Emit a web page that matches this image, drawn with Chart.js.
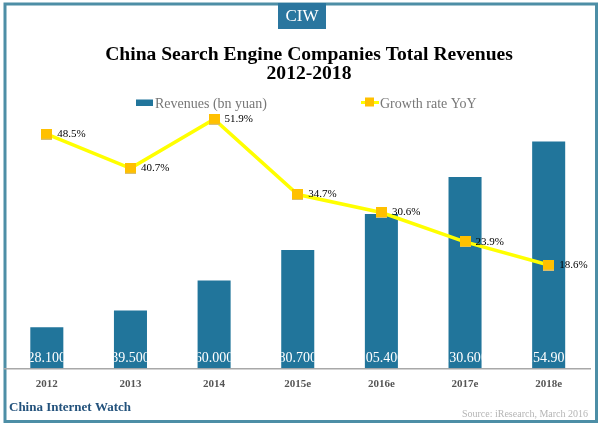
<!DOCTYPE html>
<html><head><meta charset="utf-8">
<style>html,body{margin:0;padding:0;background:#fff}canvas{display:block}</style>
<script src="https://cdn.jsdelivr.net/npm/chart.js@4/dist/chart.umd.min.js"></script>
</head><body><canvas id="c" width="600" height="424"></canvas>
<script>
const categories=["2012","2013","2014","2015e","2016e","2017e","2018e"];
const revenues=[28.1,39.5,60.0,80.7,105.4,130.6,154.9];
const revenueLabels=["28.100","39.500","60.000","80.700","105.400","130.600","154.900"];
const growth=[48.5,40.7,51.9,34.7,30.6,23.9,18.6];
const growthLabels=["48.5%","40.7%","51.9%","34.7%","30.6%","23.9%","18.6%"];
const titleLines=["China Search Engine Companies Total Revenues","2012-2018"];
const seriesNames=["Revenues (bn yuan)","Growth rate YoY"];
const SERIF='"Liberation Serif",serif';

function marker(){const c=document.createElement('canvas');c.width=11;c.height=11;const x=c.getContext('2d');
 x.fillStyle='#ffc000';x.fillRect(0,0,11,10);x.fillStyle='#d9bf70';x.fillRect(0,10,11,1);return c;}

const decor={id:'decor',
 afterLayout(ch){ch.titleBlock.left=27;ch.titleBlock.right=591;},
 beforeDraw(ch){const x=ch.ctx;x.save();
  x.fillStyle='#fff';x.fillRect(0,0,600,424);
  x.strokeStyle='#4d8ea6';x.lineWidth=3;x.strokeRect(5,4,591.5,417.5);
  x.restore();},
 afterDraw(ch){const x=ch.ctx;x.save();
  x.fillStyle='#2a769f';x.fillRect(278,3,48,26);
  x.fillStyle='#fff';x.font='17px '+SERIF;x.textAlign='center';x.textBaseline='middle';x.fillText('CIW',302,17);
  x.textAlign='left';x.fillStyle='#23527c';x.font='bold 13px '+SERIF;x.fillText('China Internet Watch',9,408);
  x.textAlign='right';x.fillStyle='#b5b5b5';x.font='10px '+SERIF;x.fillText('Source: iResearch, March 2016',588,414);
  // legend
  x.textAlign='left';x.fillStyle='#777';x.font='14px '+SERIF;
  x.fillText(seriesNames[0],155,104);x.fillText(seriesNames[1],380,104);
  x.fillStyle='#21759b';x.fillRect(136,99.5,17,6.5);
  x.fillStyle='#ffff00';x.fillRect(361,101,18,3);
  x.fillStyle='#ffc000';x.fillRect(365,97.5,9,9);
  const bars=ch.getDatasetMeta(0).data,pts=ch.getDatasetMeta(1).data;
  bars.forEach((b,i)=>{x.save();x.beginPath();x.rect(b.x-b.width/2,b.y,b.width,b.base-b.y);x.clip();
   x.fillStyle='#fff';x.font='14px '+SERIF;x.textAlign='center';x.textBaseline='middle';x.fillText(revenueLabels[i],b.x,358);x.restore();});
  pts.forEach((p,i)=>{x.fillStyle='#000';x.font='11px '+SERIF;x.textAlign='left';x.textBaseline='middle';x.fillText(growthLabels[i],p.x+10.5,p.y);});
  x.restore();}
};

new Chart(document.getElementById('c'),{
 data:{labels:categories,datasets:[
  {type:'bar',label:seriesNames[0],data:revenues,backgroundColor:'#21759b',yAxisID:'y',order:2,barPercentage:0.395,categoryPercentage:1},
  {type:'line',label:seriesNames[1],data:growth,borderColor:'#ffff00',borderWidth:3.5,tension:0,backgroundColor:'#ffc000',pointStyle:marker(),pointRadius:5,pointBorderWidth:0,yAxisID:'y1',order:1}
 ]},
 options:{responsive:false,animation:false,
  layout:{padding:{top:45,left:5,right:9.5,bottom:24.5}},
  plugins:{
   tooltip:{enabled:false},
   legend:{display:false},
   title:{display:true,text:titleLines,color:'#000',font:{family:SERIF,size:19.6,weight:'bold',lineHeight:0.97},padding:{top:0,bottom:17}}
  },
  scales:{
   x:{afterFit(s){s.paddingLeft=0;s.paddingRight=0;},grid:{display:false,drawTicks:false},border:{color:'#a8a8a8',width:1.5},ticks:{color:'#555',font:{family:SERIF,size:11,weight:'bold'},padding:9}},
   y:{display:false,min:0,max:183.2},
   y1:{display:false,min:-5,max:56.3}
  }
 },
 plugins:[decor]
});
</script></body></html>
